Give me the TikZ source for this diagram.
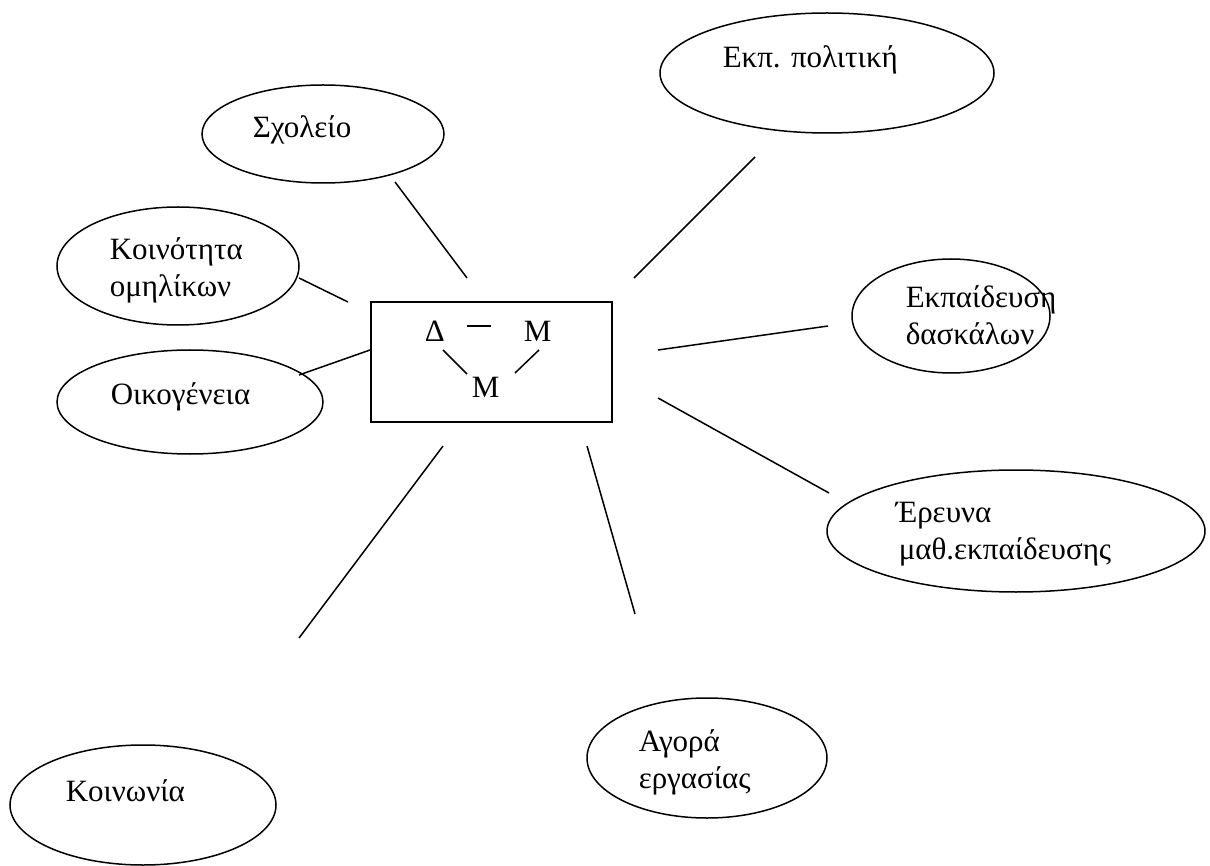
\documentclass[tikz,border=0pt]{standalone}
\usepackage{fontspec}
\setmainfont{Liberation Serif}
\usetikzlibrary{shapes.geometric}
\begin{document}
\begin{tikzpicture}[x=1pt,y=-1pt,line width=1.5pt,
  bubble/.style={draw, ellipse, inner sep=0pt, line width=1.5pt},
  box/.style={draw, rectangle, inner sep=0pt, line width=1.5pt},
  lbl/.style={anchor=base west, inner sep=0pt, align=left, font=\fontsize{31}{37}\selectfont},
  link/.style={draw, line width=1.5pt}]
\useasboundingbox (0,0) rectangle (1210,866);
% ellipses
\node[bubble, minimum width=334pt, minimum height=120pt] (pol) at (827,73) {};
\node[bubble, minimum width=242pt, minimum height=98pt] (sch) at (323,134) {};
\node[bubble, minimum width=242pt, minimum height=118pt] (koin) at (178,266) {};
\node[bubble, minimum width=266pt, minimum height=104pt] (oik) at (190,402) {};
\node[bubble, minimum width=198pt, minimum height=114pt] (ekp) at (951,316) {};
\node[bubble, minimum width=378pt, minimum height=122pt] (ere) at (1016,531) {};
\node[bubble, minimum width=240pt, minimum height=120pt] (ago) at (707,758) {};
\node[bubble, minimum width=266pt, minimum height=120pt] (kvn) at (143,805) {};
% labels (multi-line labels are anchored at the baseline of their last line)
\node[lbl] (tpol) at (722,68) {Εκπ. πολιτική};
\node[lbl] (tsch) at (252,138) {Σχολείο};
\node[lbl] (tkoin) at (109,297) {Κοινότητα\\ομηλίκων};
\node[lbl] (toik) at (110,405) {Οικογένεια};
\node[lbl] (tekp) at (905,345) {Εκπαίδευση\\δασκάλων};
\node[lbl] (tere) at (895,559) {Έρευνα\\\hspace*{3pt}μαθ.εκπαίδευσης};
\node[lbl] (tago) at (638,788) {Αγορά\\εργασίας};
\node[lbl] (tkvn) at (65,801) {Κοινωνία};
% central box
\node[box, minimum width=241pt, minimum height=120pt] (ctr) at (491.5,362) {};
\node[lbl] (d) at (424,342) {Δ};
\node[lbl] (m1) at (523,342) {Μ};
\node[lbl] (m2) at (471,397) {Μ};
% connector ends
\coordinate (sch1) at (395,182);  \coordinate (sch2) at (467,278);
\coordinate (pol1) at (755,157);  \coordinate (pol2) at (634,278);
\coordinate (koin1) at (299,278); \coordinate (koin2) at (348,302);
\coordinate (oik1) at (299,375);  \coordinate (oik2) at (370,350);
\coordinate (ekp1) at (828,326);  \coordinate (ekp2) at (658,350);
\coordinate (ere1) at (829,493);  \coordinate (ere2) at (658,398);
\coordinate (ago1) at (635,614);  \coordinate (ago2) at (587,446);
\coordinate (kvn1) at (299,638);  \coordinate (kvn2) at (443,446);
\coordinate (dm1a) at (467,326);  \coordinate (dm1b) at (491,326);
\coordinate (dm2a) at (443,350);  \coordinate (dm2b) at (467,374);
\coordinate (mm2a) at (539,350);  \coordinate (mm2b) at (515,373);
\path[link] (sch1) -- (sch2);
\path[link] (pol1) -- (pol2);
\path[link] (koin1) -- (koin2);
\path[link] (oik1) -- (oik2);
\path[link] (ekp1) -- (ekp2);
\path[link] (ere1) -- (ere2);
\path[link] (ago1) -- (ago2);
\path[link] (kvn1) -- (kvn2);
\path[link] (dm1a) -- (dm1b);
\path[link] (dm2a) -- (dm2b);
\path[link] (mm2a) -- (mm2b);
\end{tikzpicture}
\end{document}
